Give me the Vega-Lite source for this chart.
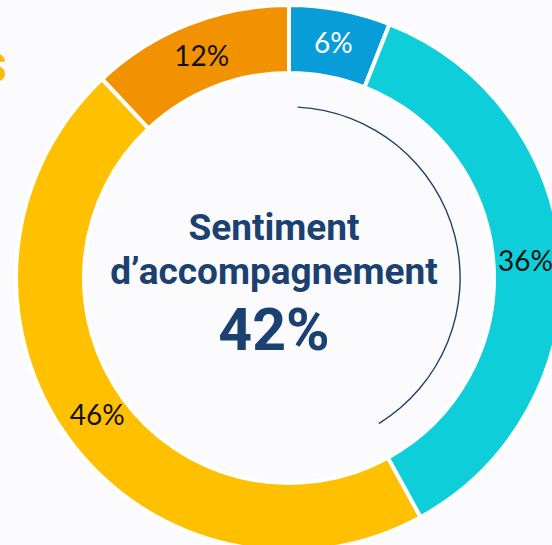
{
  "$schema": "https://vega.github.io/schema/vega-lite/v6.json",
  "width": 578,
  "height": 556,
  "autosize": "none",
  "padding": 0,
  "background": "#fbfbfe",
  "config": {"view": {"stroke": null}},
  "datasets": {
    "parts": [
      {"cat": "A", "ord": 1, "value": 6, "label": "6%"},
      {"cat": "B", "ord": 2, "value": 36, "label": "36%"},
      {"cat": "C", "ord": 3, "value": 46, "label": "46%"},
      {"cat": "D", "ord": 4, "value": 12, "label": "12%"}
    ]
  },
  "layer": [
    {
      "data": {"name": "parts"},
      "mark": {"type": "arc", "radius": 273, "radius2": 205, "stroke": "white", "strokeWidth": 4},
      "encoding": {
        "theta": {"field": "value", "type": "quantitative", "stack": true, "scale": {"domain": [0, 100]}},
        "order": {"field": "ord", "type": "quantitative"},
        "color": {
          "field": "cat", "type": "nominal", "legend": null,
          "scale": {"domain": ["A", "B", "C", "D"], "range": ["#089dd8", "#0ecfd9", "#ffc000", "#f39200"]}
        }
      }
    },
    {
      "data": {"name": "parts"},
      "mark": {"type": "text", "radius": 237, "font": "Lato", "fontSize": 28, "baseline": "middle", "align": "center"},
      "encoding": {
        "theta": {"field": "value", "type": "quantitative", "stack": true, "scale": {"domain": [0, 100]}},
        "order": {"field": "ord", "type": "quantitative"},
        "text": {"field": "label", "type": "nominal"},
        "color": {"condition": {"test": "datum.cat == 'A'", "value": "white"}, "value": "#111111"}
      }
    },
    {
      "data": {"values": [{"start": 0.8, "end": 41.2}]},
      "mark": {"type": "arc", "radius": 171.8, "radius2": 170.4, "color": "#1f3f6e"},
      "encoding": {
        "theta": {"field": "start", "type": "quantitative", "scale": {"domain": [0, 100]}},
        "theta2": {"field": "end"}
      }
    },
    {
      "data": {"values": [{"t": "Sentiment"}]},
      "mark": {"type": "text", "font": "Roboto", "fontWeight": "bold", "fontSize": 37, "color": "#1b4170", "align": "center", "baseline": "alphabetic", "dx": -15, "dy": -38},
      "encoding": {"text": {"field": "t", "type": "nominal"}}
    },
    {
      "data": {"values": [{"t": "d’accompagnement"}]},
      "mark": {"type": "text", "font": "Roboto", "fontWeight": "bold", "fontSize": 37, "color": "#1b4170", "align": "center", "baseline": "alphabetic", "dx": -15, "dy": 6},
      "encoding": {"text": {"field": "t", "type": "nominal"}}
    },
    {
      "data": {"values": [{"t": "42%"}]},
      "mark": {"type": "text", "font": "Roboto", "fontWeight": "bold", "fontSize": 59, "color": "#1b4170", "align": "center", "baseline": "alphabetic", "dx": -15, "dy": 72},
      "encoding": {"text": {"field": "t", "type": "nominal"}}
    },
    {
      "data": {"values": [{"t": "s"}]},
      "mark": {"type": "text", "font": "Roboto", "fontWeight": "bold", "fontSize": 56, "color": "#fcb900", "align": "right", "baseline": "alphabetic", "dx": -282, "dy": -196},
      "encoding": {"text": {"field": "t", "type": "nominal"}}
    }
  ]
}
